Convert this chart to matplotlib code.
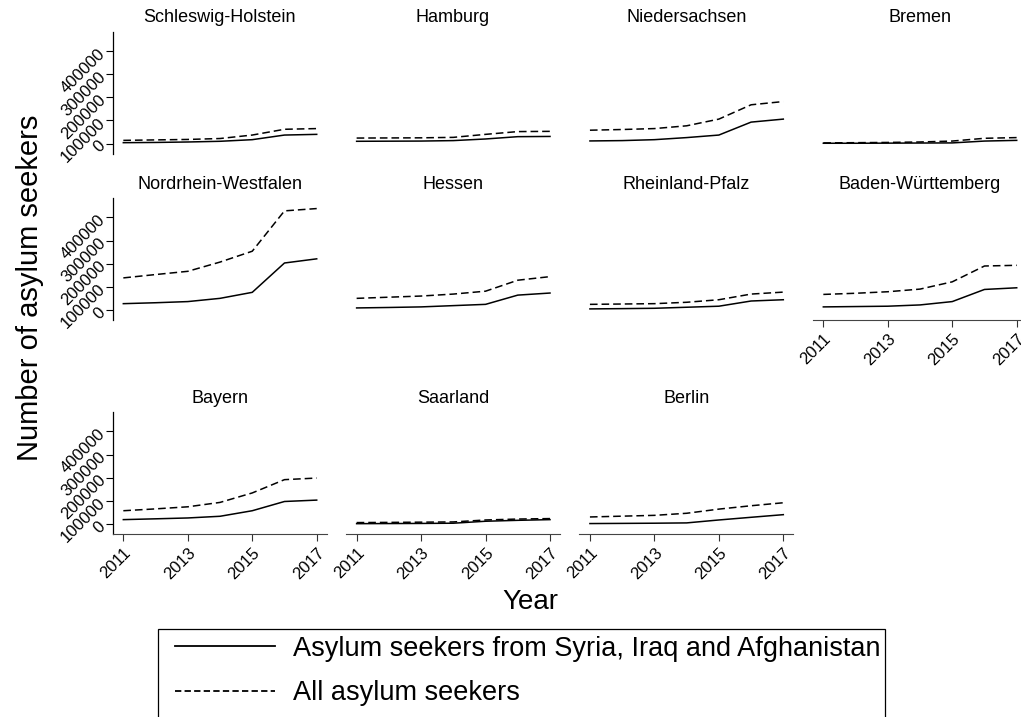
import numpy as np
import matplotlib.pyplot as plt
from matplotlib.lines import Line2D
from matplotlib.patches import Rectangle

plt.rcParams['font.family'] = ['Liberation Sans', 'DejaVu Sans']

# Datos
anios = [2011, 2012, 2013, 2014, 2015, 2016, 2017]
estados = ["Schleswig-Holstein", "Hamburg", "Niedersachsen", "Bremen",
           "Nordrhein-Westfalen", "Hessen", "Rheinland-Pfalz", "Baden-Württemberg",
           "Bayern", "Saarland", "Berlin"]

# Asylum seekers from Syria, Iraq and Afghanistan
sh_sia = [4000, 5000, 7000, 10000, 17000, 37000, 40000]
hh_sia = [10000, 10500, 11000, 13000, 20000, 30000, 31000]
ni_sia = [11500, 13000, 17000, 26000, 37000, 93000, 106000]
hb_sia = [1500, 1500, 2000, 2500, 3000, 11000, 14000]
nw_sia = [27000, 31000, 36000, 50000, 76000, 203000, 221000]
he_sia = [8500, 10500, 13000, 18500, 24000, 64000, 73000]
rp_sia = [4300, 5500, 7000, 11500, 16000, 38500, 44000]
bw_sia = [13000, 14500, 16000, 21500, 36000, 88500, 95700]
by_sia = [18500, 22000, 25700, 33000, 57000, 97000, 103000]
sl_sia = [1000, 1500, 2000, 3000, 11500, 15500, 18500]
be_sia = [1500, 2200, 3000, 4300, 17000, 28600, 40000]

# All asylum seekers
sh_all = [14000, 16000, 18000, 22000, 37000, 62000, 65000]
hh_all = [24000, 24500, 25000, 27000, 40000, 52000, 53000]
ni_all = [58000, 61000, 65000, 77000, 106000, 168000, 182000]
hb_all = [3000, 4000, 5000, 7000, 11000, 23000, 26000]
nw_all = [138500, 153000, 167000, 207000, 254000, 428600, 438600]
he_all = [50000, 55000, 60000, 68500, 81000, 128500, 144000]
rp_all = [24000, 25500, 27000, 33000, 44000, 68500, 77000]
bw_all = [67000, 72000, 78600, 90000, 121500, 190000, 193000]
by_all = [57000, 65000, 74000, 93000, 134000, 191500, 198500]
sl_all = [5700, 6500, 7500, 8500, 17000, 21000, 23000]
be_all = [30000, 33500, 37000, 46000, 64000, 78600, 91500]

sia = [sh_sia, hh_sia, ni_sia, hb_sia, nw_sia, he_sia, rp_sia, bw_sia, by_sia, sl_sia, be_sia]
todos = [sh_all, hh_all, ni_all, hb_all, nw_all, he_all, rp_all, bw_all, by_all, sl_all, be_all]

yticks = [0, 100000, 200000, 300000, 400000]
xticks = [2011, 2013, 2015, 2017]

W, H = 1021, 717
fig = plt.figure(figsize=(W / 100, H / 100), dpi=100)

# posiciones de los paneles (pixeles)
izq = [112.7, 346.0, 579.3, 812.7]
arriba = [32, 198.3, 412.3]
ancho = 214
alto = 122

conEjeX = ["Baden-Württemberg", "Bayern", "Saarland", "Berlin"]
guiones = (5, 2.6)

for i, estado in enumerate(estados):
    fila = i // 4
    col = i % 4
    ax = fig.add_axes([izq[col] / W, 1 - (arriba[fila] + alto) / H, ancho / W, alto / H])
    ax.plot(anios, sia[i], color='black', lw=1.1)
    ax.plot(anios, todos[i], color='black', lw=1.1, dashes=guiones)
    ax.set_xlim(2010.67, 2017.31)
    ax.set_ylim(-45000, 483000)
    ax.set_title(estado, fontsize=13, pad=7)
    for s in ['top', 'right']:
        ax.spines[s].set_visible(False)

    if col == 0:
        ax.set_yticks(yticks)
        ax.set_yticklabels([str(v) for v in yticks], rotation=45, fontsize=12,
                           ha='right', va='center', rotation_mode='anchor')
        ax.tick_params(axis='y', length=5, width=0.8, pad=2)
        ax.spines['left'].set_linewidth(0.9)
    else:
        ax.spines['left'].set_visible(False)
        ax.set_yticks([])

    if estado in conEjeX:
        ax.set_xticks(xticks)
        ax.set_xticklabels([str(v) for v in xticks], rotation=45, fontsize=12,
                           ha='right', va='top', rotation_mode='anchor')
        ax.tick_params(axis='x', length=5, width=0.8, pad=3, color='#333333')
        ax.spines['bottom'].set_color('#444444')
        ax.spines['bottom'].set_linewidth(0.8)
    else:
        ax.spines['bottom'].set_visible(False)
        ax.set_xticks([])

fig.text(30 / W, 1 - 288 / H, "Number of asylum seekers", rotation=90,
         fontsize=21, ha='center', va='center')
fig.text(530 / W, 1 - 602 / H, "Year", fontsize=20, ha='center', va='center')

# leyenda
manijas = [Line2D([], [], color='black', lw=1.3),
           Line2D([], [], color='black', lw=1.3, dashes=(3.5, 1.8))]
leg = fig.legend(manijas, ["Asylum seekers from Syria, Iraq and Afghanistan", "All asylum seekers"],
                 loc='upper left', bbox_to_anchor=(161 / W, 1 - 622 / H),
                 fontsize=19.5, frameon=False, handlelength=3.7,
                 handletextpad=0.67, labelspacing=0.70, borderpad=0)
marco = Rectangle((158 / W, 1 - 745 / H), (885 - 158) / W, (745 - 629) / H,
                  transform=fig.transFigure, fill=False, edgecolor='black', lw=0.9)
fig.patches.append(marco)

plt.savefig("out.png", dpi=100)
